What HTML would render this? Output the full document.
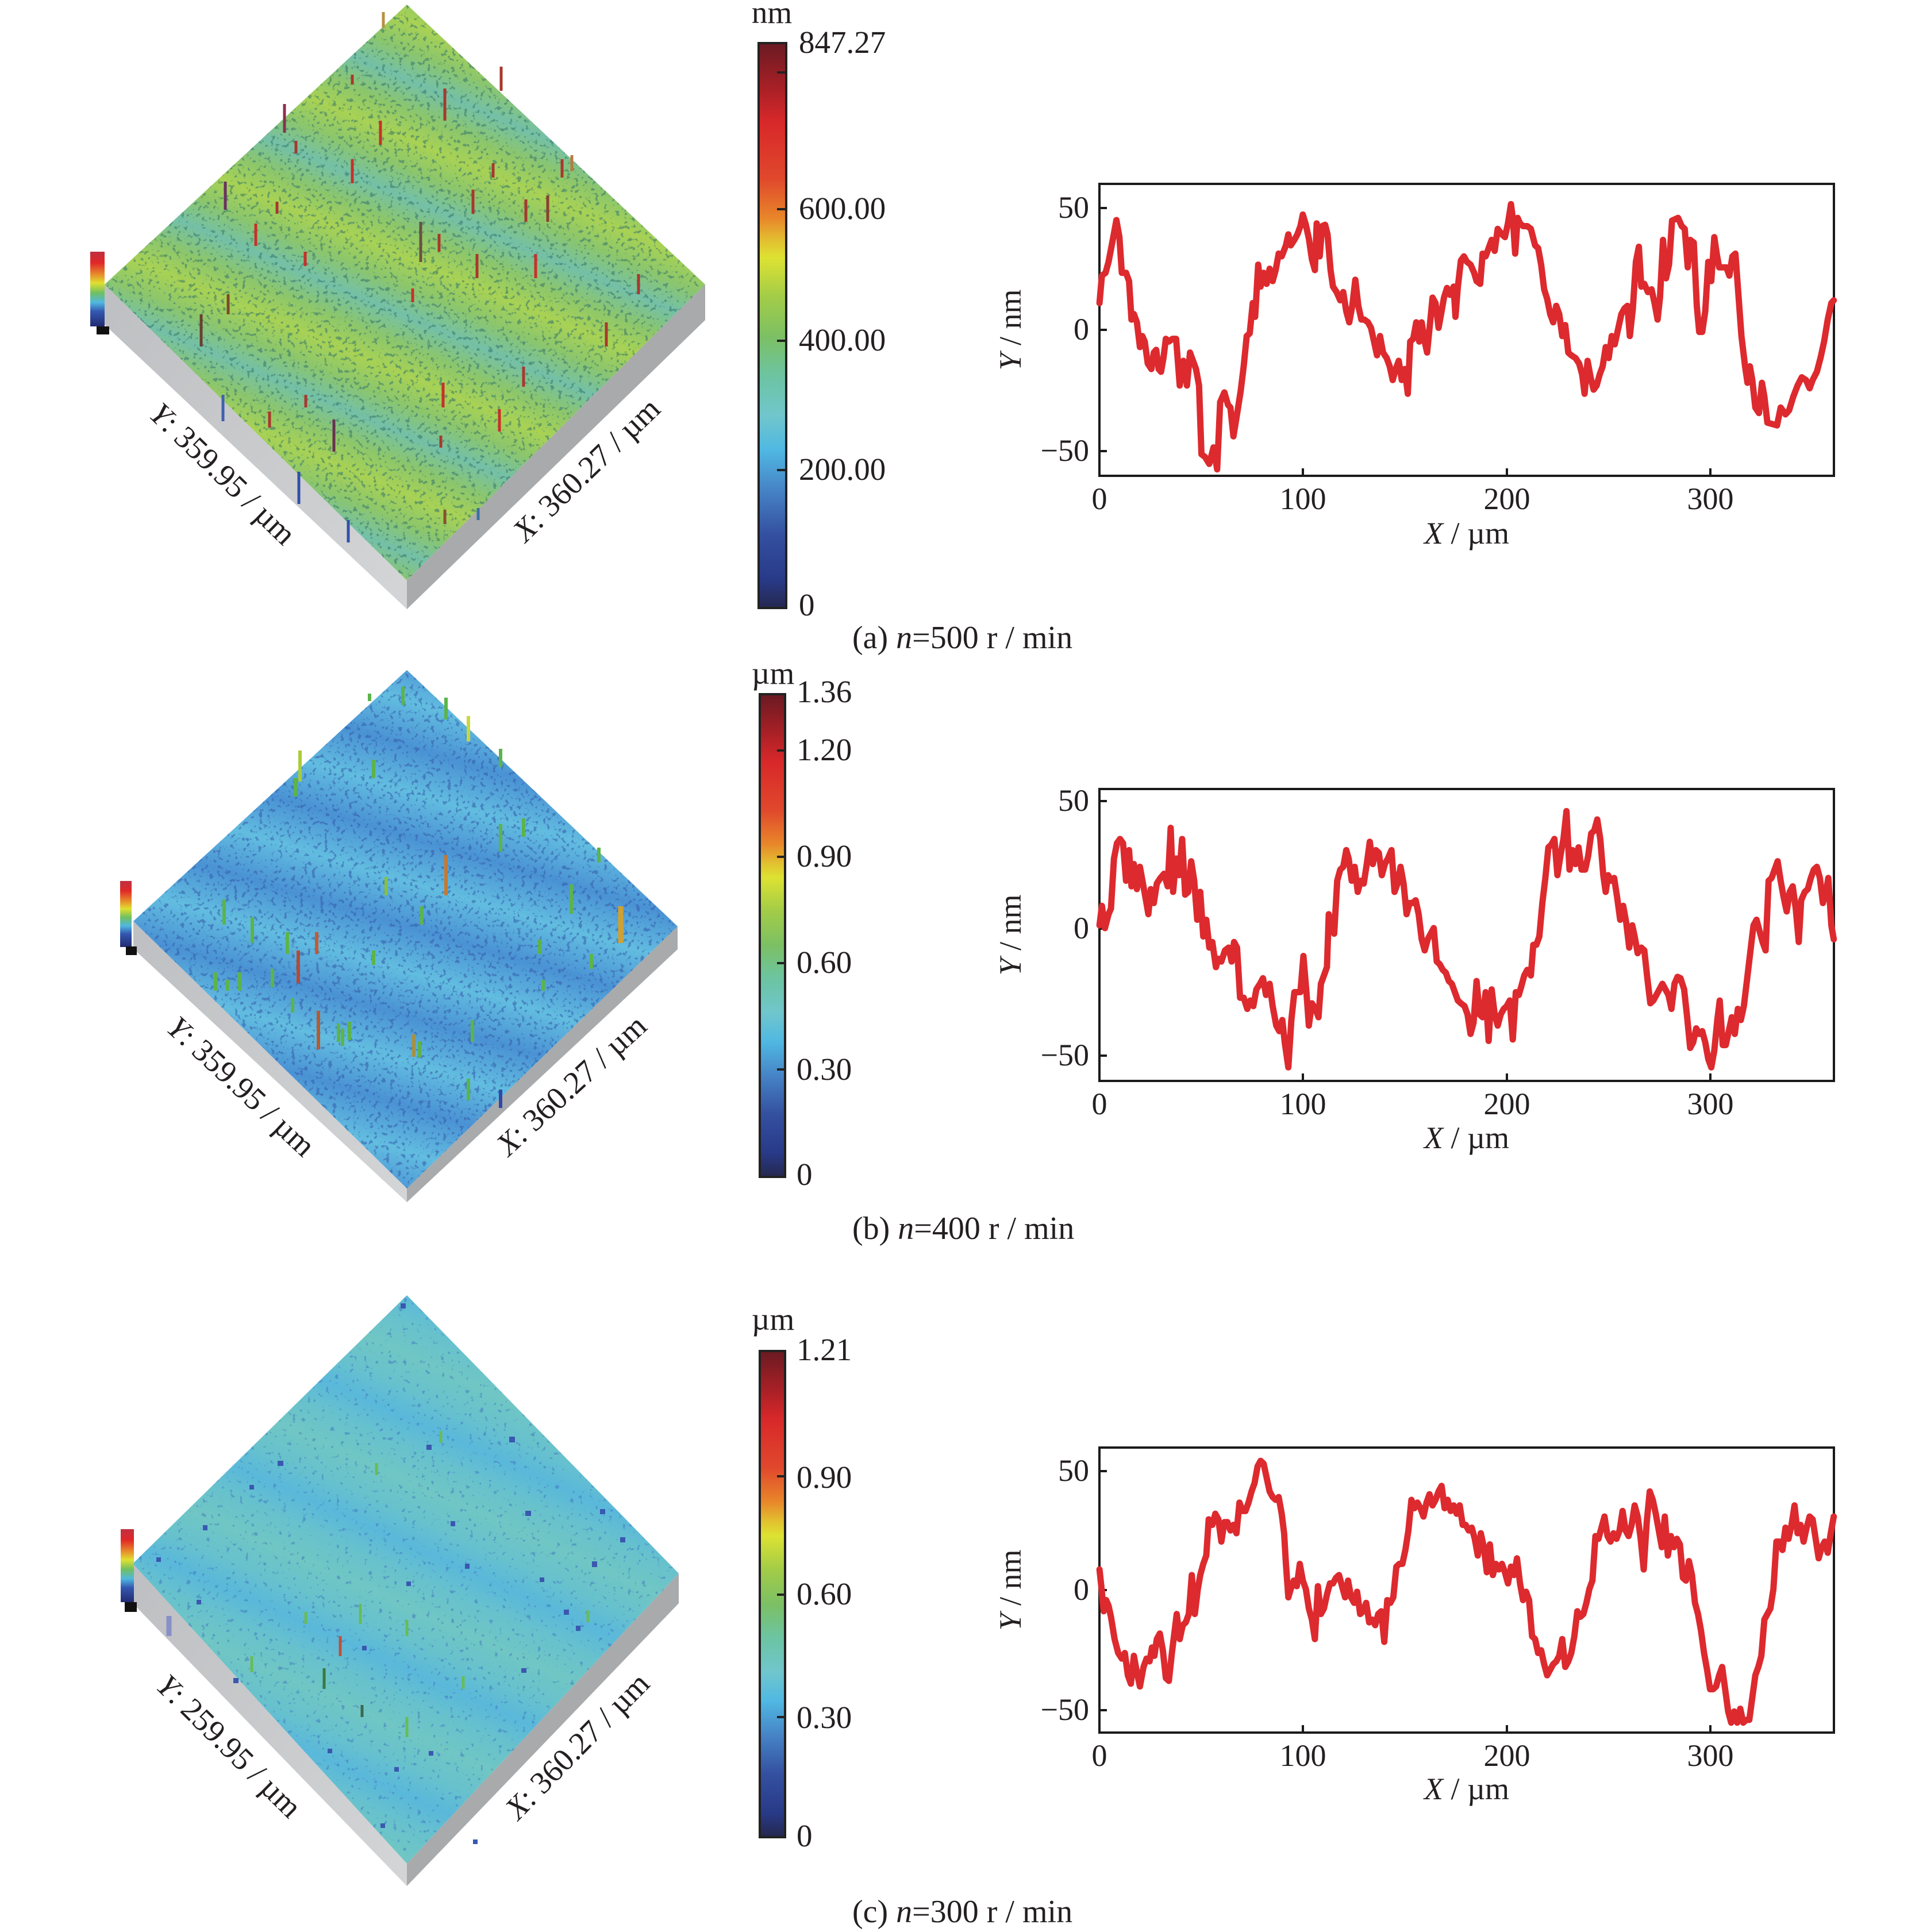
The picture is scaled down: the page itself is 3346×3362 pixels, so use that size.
<!DOCTYPE html>
<html><head><meta charset="utf-8"><style>html,body{margin:0;padding:0;background:#fff}svg{display:block}</style></head>
<body>
<svg width="3346" height="3362" viewBox="0 0 3346 3362" xmlns="http://www.w3.org/2000/svg" font-family="'Liberation Serif', serif" fill="#231f20">
<defs>
<linearGradient id="cb" x1="0" y1="0" x2="0" y2="1">
<stop offset="0" stop-color="#6a1a22"/><stop offset="0.08" stop-color="#a82026"/><stop offset="0.14" stop-color="#d8282a"/>
<stop offset="0.24" stop-color="#e0482c"/><stop offset="0.31" stop-color="#e8862a"/><stop offset="0.35" stop-color="#e2c030"/>
<stop offset="0.38" stop-color="#dde232"/><stop offset="0.45" stop-color="#a2cc48"/><stop offset="0.52" stop-color="#7cc064"/>
<stop offset="0.59" stop-color="#6cc4a2"/><stop offset="0.66" stop-color="#70c6cc"/><stop offset="0.72" stop-color="#50b8e2"/>
<stop offset="0.79" stop-color="#4684c6"/><stop offset="0.87" stop-color="#3450a0"/><stop offset="0.95" stop-color="#283a88"/>
<stop offset="1" stop-color="#25284e"/>
</linearGradient>
<linearGradient id="sc" x1="0" y1="0" x2="0" y2="1">
<stop offset="0" stop-color="#c03040"/><stop offset="0.15" stop-color="#e02828"/><stop offset="0.3" stop-color="#e88a2a"/>
<stop offset="0.42" stop-color="#e0e030"/><stop offset="0.55" stop-color="#70c060"/><stop offset="0.68" stop-color="#50b8e0"/>
<stop offset="0.8" stop-color="#3458b0"/><stop offset="1" stop-color="#222a70"/>
</linearGradient>
<linearGradient id="gA" gradientUnits="userSpaceOnUse" x1="521" y1="472" x2="447" y2="647" spreadMethod="repeat">
<stop offset="0" stop-color="#74c0a8"/><stop offset="0.25" stop-color="#8cc66c"/><stop offset="0.5" stop-color="#a8d254"/><stop offset="0.75" stop-color="#8cc66c"/><stop offset="1" stop-color="#74c0a8"/>
</linearGradient>
<linearGradient id="gB" gradientUnits="userSpaceOnUse" x1="710" y1="1456" x2="667" y2="1600" spreadMethod="repeat">
<stop offset="0" stop-color="#4a92d4"/><stop offset="0.5" stop-color="#62bde0"/><stop offset="1" stop-color="#4a92d4"/>
</linearGradient>
<linearGradient id="gC" gradientUnits="userSpaceOnUse" x1="922" y1="3002" x2="840" y2="3184" spreadMethod="repeat">
<stop offset="0" stop-color="#5ab8da"/><stop offset="0.25" stop-color="#68c2cc"/><stop offset="0.5" stop-color="#70c6c4"/><stop offset="0.75" stop-color="#68c2cc"/><stop offset="1" stop-color="#5ab8da"/>
</linearGradient>
<linearGradient id="lf" x1="0" y1="0" x2="1" y2="1">
<stop offset="0" stop-color="#bebfc2"/><stop offset="1" stop-color="#d4d5d7"/>
</linearGradient>
<clipPath id="cA"><polygon points="708,8 1227,495 708,1010 182,495"/></clipPath>
<clipPath id="cB"><polygon points="708,1166 1179,1612 708,2068 232,1603"/></clipPath>
<clipPath id="cC"><polygon points="708,2254 1181,2738 708,3243 231,2721"/></clipPath>
<filter id="nA" filterUnits="userSpaceOnUse" x="180" y="5" width="1050" height="1010" color-interpolation-filters="sRGB">
<feTurbulence type="fractalNoise" baseFrequency="0.14" numOctaves="2" seed="5"/>
<feColorMatrix type="matrix" values="0 0 0 0 0.2  0 0 0 0 0.45  0 0 0 0 0.42  10 0 0 0 -6.0"/>
</filter>
<filter id="nB" filterUnits="userSpaceOnUse" x="230" y="1160" width="955" height="915" color-interpolation-filters="sRGB">
<feTurbulence type="fractalNoise" baseFrequency="0.14" numOctaves="2" seed="9"/>
<feColorMatrix type="matrix" values="0 0 0 0 0.2  0 0 0 0 0.35  0 0 0 0 0.66  10 0 0 0 -5.9"/>
</filter>
<filter id="nC" filterUnits="userSpaceOnUse" x="228" y="2250" width="958" height="1000" color-interpolation-filters="sRGB">
<feTurbulence type="fractalNoise" baseFrequency="0.12" numOctaves="2" seed="13"/>
<feColorMatrix type="matrix" values="0 0 0 0 0.22  0 0 0 0 0.42  0 0 0 0 0.74  10 0 0 0 -6.6"/>
</filter>
</defs>
<rect width="3346" height="3362" fill="#fff"/>

<!-- ============ PANEL A surface ============ -->
<polygon points="182,495 708,1010 708,1060 182,565" fill="url(#lf)"/>
<polygon points="708,1010 1227,495 1227,557 708,1060" fill="#a9aaac"/>
<polygon points="708,8 1227,495 708,1010 182,495" fill="url(#gA)"/>
<rect x="180" y="5" width="1050" height="1010" filter="url(#nA)" clip-path="url(#cA)" opacity="0.55"/>
<g stroke-width="5" stroke="#a8382e">
<line x1="667" y1="21" x2="667" y2="49" stroke="#b89040"/><line x1="872" y1="116" x2="872" y2="158"/><line x1="613" y1="130" x2="613" y2="147"/>
<line x1="774" y1="154" x2="774" y2="210"/><line x1="495" y1="181" x2="495" y2="231" stroke="#8a3050"/><line x1="515" y1="245" x2="515" y2="267"/>
<line x1="662" y1="210" x2="662" y2="252" stroke="#c8302a"/><line x1="613" y1="277" x2="613" y2="319" stroke="#c8302a"/><line x1="858" y1="284" x2="858" y2="309"/>
<line x1="978" y1="277" x2="978" y2="309"/><line x1="995" y1="270" x2="995" y2="298" stroke="#b87a40"/><line x1="392" y1="316" x2="392" y2="365" stroke="#6a3060"/>
<line x1="482" y1="351" x2="482" y2="372"/><line x1="445" y1="389" x2="445" y2="428" stroke="#c8302a"/><line x1="823" y1="330" x2="823" y2="372"/>
<line x1="915" y1="347" x2="915" y2="386"/><line x1="953" y1="340" x2="953" y2="386" stroke="#8a4030"/><line x1="732" y1="386" x2="732" y2="456" stroke="#6a5040"/>
<line x1="764" y1="407" x2="764" y2="438"/><line x1="531" y1="438" x2="531" y2="463" stroke="#c8302a"/><line x1="932" y1="442" x2="932" y2="484" stroke="#c8302a"/>
<line x1="830" y1="442" x2="830" y2="484"/><line x1="718" y1="502" x2="718" y2="526" stroke="#c8302a"/><line x1="397" y1="512" x2="397" y2="547" stroke="#7a4a28"/>
<line x1="350" y1="547" x2="350" y2="603" stroke="#6a4030"/><line x1="1111" y1="477" x2="1111" y2="512"/><line x1="1055" y1="561" x2="1055" y2="603"/>
<line x1="771" y1="666" x2="771" y2="709" stroke="#c8302a"/><line x1="869" y1="712" x2="869" y2="751" stroke="#c8302a"/><line x1="388" y1="687" x2="388" y2="733" stroke="#4060b0"/>
<line x1="532" y1="687" x2="532" y2="709"/><line x1="581" y1="730" x2="581" y2="786" stroke="#6a3050"/><line x1="520" y1="821" x2="520" y2="877" stroke="#3050a8"/>
<line x1="606" y1="905" x2="606" y2="944" stroke="#3050a8"/><line x1="767" y1="758" x2="767" y2="779"/><line x1="832" y1="884" x2="832" y2="905" stroke="#3a70a0"/>
<line x1="774" y1="887" x2="774" y2="912" stroke="#8a5030"/><line x1="911" y1="638" x2="911" y2="673"/><line x1="469" y1="716" x2="469" y2="744"/>
</g>
<rect x="157" y="438" width="25" height="130" fill="url(#sc)"/>
<rect x="168" y="568" width="22" height="14" fill="#111"/>
<text transform="translate(388,824) rotate(44)" text-anchor="middle" dominant-baseline="central" font-size="55"><tspan font-style="italic">Y</tspan>: 359.95 / µm</text>
<text transform="translate(1020,817) rotate(-44)" text-anchor="middle" dominant-baseline="central" font-size="55"><tspan font-style="italic">X</tspan>: 360.27 / µm</text>

<!-- colorbar A -->
<rect x="1320" y="75" width="48" height="983" fill="url(#cb)" stroke="#222" stroke-width="4"/>
<g stroke="#222" stroke-width="4"><line x1="1352" y1="126" x2="1368" y2="126"/><line x1="1352" y1="364" x2="1368" y2="364"/><line x1="1352" y1="593" x2="1368" y2="593"/><line x1="1352" y1="818" x2="1368" y2="818"/></g>
<g font-size="55">
<text x="1343" y="40" text-anchor="middle">nm</text>
<text x="1390" y="92">847.27</text><text x="1390" y="381">600.00</text><text x="1390" y="610">400.00</text><text x="1390" y="835">200.00</text><text x="1390" y="1071">0</text>
</g>
<text x="1483" y="1128" font-size="56">(a) <tspan font-style="italic">n</tspan>=500 r / min</text>

<!-- plot A -->
<rect x="1913" y="320" width="1278" height="508" fill="none" stroke="#1a1a1a" stroke-width="4"/>
<g stroke="#1a1a1a" stroke-width="4">
<line x1="1913" y1="362" x2="1926" y2="362"/><line x1="1913" y1="574" x2="1926" y2="574"/><line x1="1913" y1="785" x2="1926" y2="785"/>
<line x1="2267" y1="828" x2="2267" y2="815"/><line x1="2622" y1="828" x2="2622" y2="815"/><line x1="2976" y1="828" x2="2976" y2="815"/>
</g>
<g font-size="54">
<text x="1895" y="379" text-anchor="end">50</text><text x="1895" y="591" text-anchor="end">0</text><text x="1895" y="802" text-anchor="end">−50</text>
<text x="1913" y="886" text-anchor="middle">0</text><text x="2267" y="886" text-anchor="middle">100</text><text x="2622" y="886" text-anchor="middle">200</text><text x="2976" y="886" text-anchor="middle">300</text>
<text x="2552" y="946" text-anchor="middle"><tspan font-style="italic">X</tspan> / µm</text>
<text transform="translate(1776,574) rotate(-90)" text-anchor="middle"><tspan font-style="italic">Y</tspan> / nm</text>
</g>
<g transform="translate(1700,250) scale(1.0498,0.4783)">
<polyline fill="none" stroke="#dd2a2e" stroke-width="11" stroke-linejoin="round" stroke-linecap="round" vector-effect="non-scaling-stroke" points="203,580 207,480 213,470 218,430 225,350 231,278 236,340 240,470 247,470 252,500 256,640 260,620 265,650 270,740 274,700 278,720 283,800 289,820 293,760 297,750 301,820 305,830 309,780 313,710 318,720 324,710 330,710 336,880 342,790 348,880 353,760 358,790 363,820 368,880 372,1130 378,1140 385,1165 392,1105 398,1185 403,940 410,905 416,950 420,960 425,1065 432,970 437,900 442,810 447,700 452,690 457,580 461,630 466,440 470,520 475,470 480,510 485,455 490,500 495,460 500,400 505,410 512,370 516,330 520,370 526,350 531,330 536,300 540,258 545,295 550,345 555,420 560,460 563,290 568,410 572,300 577,295 581,330 586,460 590,520 596,540 602,570 607,540 612,610 617,650 622,590 627,495 632,590 637,640 642,640 648,650 653,670 658,720 663,770 668,700 673,760 679,780 684,810 689,860 694,820 699,790 704,860 709,820 714,910 718,720 723,710 728,650 733,720 737,650 742,720 746,760 751,650 755,560 760,580 765,670 770,610 774,560 779,525 784,550 790,520 793,630 797,520 802,425 807,410 812,430 818,440 824,470 828,500 834,510 838,400 843,410 848,380 853,350 858,390 863,310 870,330 875,340 880,290 885,220 888,270 892,400 896,270 900,290 905,300 912,300 918,310 925,370 930,380 935,440 940,530 945,565 950,620 955,650 960,590 965,620 970,700 975,660 980,760 985,770 992,780 998,800 1003,840 1007,910 1012,790 1017,850 1022,895 1027,880 1032,840 1037,810 1042,740 1047,780 1052,700 1057,730 1062,680 1068,620 1073,600 1078,590 1082,700 1087,600 1092,430 1097,375 1101,520 1106,510 1112,540 1118,530 1123,580 1128,640 1132,560 1137,350 1142,490 1147,440 1152,280 1157,275 1162,270 1168,300 1173,310 1178,450 1182,350 1188,360 1193,590 1197,685 1202,685 1207,610 1212,430 1217,500 1222,340 1226,400 1230,450 1236,450 1242,450 1247,480 1252,410 1257,400 1262,550 1267,700 1273,810 1277,870 1281,810 1285,860 1290,960 1296,980 1301,870 1305,920 1310,1015 1318,1020 1326,1025 1332,960 1340,985 1346,970 1353,920 1360,880 1367,850 1374,860 1380,890 1385,860 1392,830 1398,780 1404,720 1410,640 1416,580 1420,570"/>
</g>

<!-- ============ PANEL B surface ============ -->
<polygon points="232,1603 708,2068 708,2092 232,1651" fill="url(#lf)"/>
<polygon points="708,2068 1179,1612 1179,1652 708,2092" fill="#a9aaac"/>
<polygon points="708,1166 1179,1612 708,2068 232,1603" fill="url(#gB)"/>
<rect x="230" y="1160" width="955" height="915" filter="url(#nB)" clip-path="url(#cB)" opacity="0.55"/>
<g stroke-width="6" stroke="#5cb44a">
<line x1="522" y1="1306" x2="522" y2="1360" stroke="#a8cc3a"/><line x1="514" y1="1354" x2="514" y2="1386"/><line x1="701" y1="1195" x2="701" y2="1227"/>
<line x1="643" y1="1207" x2="643" y2="1220"/><line x1="815" y1="1246" x2="815" y2="1290" stroke="#c8d83a"/><line x1="871" y1="1303" x2="871" y2="1335"/>
<line x1="650" y1="1322" x2="650" y2="1354"/><line x1="776" y1="1214" x2="776" y2="1252"/><line x1="776" y1="1488" x2="776" y2="1558" stroke="#c87830"/>
<line x1="672" y1="1526" x2="672" y2="1558" stroke="#88c040"/><line x1="871" y1="1434" x2="871" y2="1482"/><line x1="911" y1="1424" x2="911" y2="1456"/>
<line x1="1042" y1="1475" x2="1042" y2="1501"/><line x1="1080" y1="1577" x2="1080" y2="1641" stroke="#d0a030" stroke-width="9"/><line x1="994" y1="1539" x2="994" y2="1590"/>
<line x1="390" y1="1565" x2="390" y2="1609"/><line x1="439" y1="1596" x2="439" y2="1641"/><line x1="551" y1="1622" x2="551" y2="1660" stroke="#c85a30"/>
<line x1="519" y1="1654" x2="519" y2="1711" stroke="#b84a30"/><line x1="500" y1="1622" x2="500" y2="1660"/><line x1="474" y1="1686" x2="474" y2="1718"/>
<line x1="417" y1="1692" x2="417" y2="1724"/><line x1="375" y1="1692" x2="375" y2="1724"/><line x1="554" y1="1759" x2="554" y2="1826" stroke="#b85a30"/>
<line x1="589" y1="1781" x2="589" y2="1813"/><line x1="608" y1="1778" x2="608" y2="1810"/><line x1="720" y1="1800" x2="720" y2="1839" stroke="#a89040"/>
<line x1="734" y1="1577" x2="734" y2="1609"/><line x1="650" y1="1654" x2="650" y2="1679"/><line x1="822" y1="1775" x2="822" y2="1813"/>
<line x1="939" y1="1635" x2="939" y2="1660"/><line x1="1029" y1="1660" x2="1029" y2="1686"/><line x1="815" y1="1877" x2="815" y2="1915"/>
<line x1="509" y1="1737" x2="509" y2="1762"/><line x1="945" y1="1705" x2="945" y2="1724"/><line x1="871" y1="1896" x2="871" y2="1928" stroke="#3048a8"/>
<line x1="396" y1="1705" x2="396" y2="1724"/><line x1="596" y1="1790" x2="596" y2="1820"/><line x1="730" y1="1812" x2="730" y2="1840"/>
</g>
<rect x="209" y="1533" width="20" height="115" fill="url(#sc)"/>
<rect x="219" y="1647" width="19" height="15" fill="#111"/>
<text transform="translate(420,1890) rotate(43)" text-anchor="middle" dominant-baseline="central" font-size="55"><tspan font-style="italic">Y</tspan>: 359.95 / µm</text>
<text transform="translate(994,1888) rotate(-42.5)" text-anchor="middle" dominant-baseline="central" font-size="55"><tspan font-style="italic">X</tspan>: 360.27 / µm</text>

<!-- colorbar B -->
<rect x="1322" y="1208" width="44" height="840" fill="url(#cb)" stroke="#222" stroke-width="4"/>
<g stroke="#222" stroke-width="4"><line x1="1352" y1="1306" x2="1366" y2="1306"/><line x1="1352" y1="1491" x2="1366" y2="1491"/><line x1="1352" y1="1676" x2="1366" y2="1676"/><line x1="1352" y1="1861" x2="1366" y2="1861"/></g>
<g font-size="55">
<text x="1345" y="1190" text-anchor="middle">µm</text>
<text x="1386" y="1222">1.36</text><text x="1386" y="1323">1.20</text><text x="1386" y="1508">0.90</text><text x="1386" y="1693">0.60</text><text x="1386" y="1879">0.30</text><text x="1386" y="2062">0</text>
</g>
<text x="1483" y="2156" font-size="56">(b) <tspan font-style="italic">n</tspan>=400 r / min</text>

<!-- plot B -->
<rect x="1913" y="1373" width="1278" height="508" fill="none" stroke="#1a1a1a" stroke-width="4"/>
<g stroke="#1a1a1a" stroke-width="4">
<line x1="1913" y1="1394" x2="1926" y2="1394"/><line x1="1913" y1="1616" x2="1926" y2="1616"/><line x1="1913" y1="1837" x2="1926" y2="1837"/>
<line x1="2267" y1="1881" x2="2267" y2="1868"/><line x1="2622" y1="1881" x2="2622" y2="1868"/><line x1="2976" y1="1881" x2="2976" y2="1868"/>
</g>
<g font-size="54">
<text x="1895" y="1411" text-anchor="end">50</text><text x="1895" y="1633" text-anchor="end">0</text><text x="1895" y="1854" text-anchor="end">−50</text>
<text x="1913" y="1939" text-anchor="middle">0</text><text x="2267" y="1939" text-anchor="middle">100</text><text x="2622" y="1939" text-anchor="middle">200</text><text x="2976" y="1939" text-anchor="middle">300</text>
<text x="2552" y="1998" text-anchor="middle"><tspan font-style="italic">X</tspan> / µm</text>
<text transform="translate(1776,1627) rotate(-90)" text-anchor="middle"><tspan font-style="italic">Y</tspan> / nm</text>
</g>
<g transform="translate(1700,1300) scale(1.0498,0.4847)">
<polyline fill="none" stroke="#dd2a2e" stroke-width="11" stroke-linejoin="round" stroke-linecap="round" vector-effect="non-scaling-stroke" points="203,640 207,570 212,650 218,600 222,580 227,400 232,345 237,330 242,345 247,480 252,370 256,500 260,420 265,510 270,430 275,490 280,550 284,600 288,510 293,560 298,490 304,470 310,455 316,500 321,290 325,520 330,400 335,460 340,330 345,530 350,520 355,410 360,480 365,620 370,520 375,680 380,620 385,720 390,700 396,790 400,760 405,770 411,730 417,720 422,770 426,700 431,720 436,900 442,900 448,940 453,910 458,930 463,870 469,850 474,830 479,890 485,850 490,930 496,1000 501,1020 506,980 510,1060 516,1150 521,980 526,880 531,880 536,880 541,750 546,880 550,1000 555,920 561,940 566,970 570,850 575,820 580,790 583,600 588,660 592,670 597,480 602,440 607,430 612,370 616,400 621,480 626,430 631,520 636,480 641,490 646,420 651,340 656,420 661,370 666,380 671,460 676,420 681,400 687,370 692,520 697,490 702,430 707,490 712,600 717,560 722,560 727,550 732,600 737,690 742,730 747,690 752,670 757,650 762,770 767,780 772,800 777,810 782,840 787,850 792,880 797,910 802,920 808,930 813,960 818,1030 823,990 828,840 833,960 838,970 843,880 848,1055 853,870 858,960 863,1000 868,960 873,940 878,930 883,910 888,1050 893,880 898,890 902,860 907,820 912,800 918,820 922,710 927,710 932,680 937,560 942,470 947,360 952,350 957,330 962,460 967,390 972,330 977,230 982,440 987,370 992,420 997,360 1002,440 1008,440 1013,390 1018,310 1023,300 1028,260 1033,330 1038,460 1042,520 1046,460 1051,480 1056,470 1061,540 1066,620 1071,570 1076,630 1081,720 1086,640 1090,680 1095,740 1101,720 1106,730 1111,830 1116,920 1121,910 1126,890 1131,870 1136,850 1141,870 1146,890 1151,940 1156,850 1161,825 1166,830 1172,870 1177,970 1182,1080 1187,1060 1192,1010 1197,1030 1202,1020 1207,1060 1212,1120 1217,1150 1222,1090 1227,980 1231,910 1236,1070 1241,1070 1246,1020 1251,970 1256,1030 1261,940 1266,980 1271,930 1276,840 1282,730 1287,640 1292,620 1297,660 1302,700 1307,730 1312,480 1317,470 1322,440 1327,410 1332,480 1337,540 1342,590 1347,520 1352,500 1357,580 1362,700 1366,550 1372,520 1377,510 1382,470 1387,440 1392,430 1397,470 1402,560 1407,520 1411,470 1416,640 1420,690"/>
</g>

<!-- ============ PANEL C surface ============ -->
<polygon points="231,2721 708,3243 708,3282 231,2790" fill="url(#lf)"/>
<polygon points="708,3243 1181,2738 1181,2790 708,3282" fill="#a9aaac"/>
<polygon points="708,2254 1181,2738 708,3243 231,2721" fill="url(#gC)"/>
<rect x="228" y="2250" width="958" height="1000" filter="url(#nC)" clip-path="url(#cC)" opacity="0.45"/>
<g fill="#3a58b0">
<rect x="697" y="2268" width="9" height="9"/><rect x="483" y="2542" width="10" height="9"/><rect x="434" y="2584" width="8" height="8"/>
<rect x="353" y="2654" width="8" height="9"/><rect x="272" y="2710" width="8" height="8"/><rect x="742" y="2514" width="9" height="9"/>
<rect x="886" y="2500" width="10" height="10"/><rect x="784" y="2647" width="8" height="9"/><rect x="914" y="2629" width="10" height="9"/>
<rect x="1044" y="2626" width="9" height="9"/><rect x="1079" y="2675" width="9" height="9"/><rect x="1030" y="2717" width="9" height="10"/>
<rect x="809" y="2721" width="8" height="9"/><rect x="981" y="2801" width="9" height="9"/><rect x="1002" y="2829" width="8" height="9"/>
<rect x="907" y="2903" width="9" height="8"/><rect x="406" y="2920" width="9" height="9"/><rect x="342" y="2784" width="8" height="8"/>
<rect x="686" y="3075" width="8" height="8"/><rect x="746" y="3047" width="8" height="8"/><rect x="662" y="3173" width="8" height="8"/>
<rect x="823" y="3201" width="8" height="8"/><rect x="570" y="3043" width="8" height="8"/><rect x="630" y="2864" width="8" height="8"/>
<rect x="707" y="2752" width="8" height="8"/><rect x="939" y="2745" width="8" height="8"/>
</g>
<g stroke-width="5" stroke="#68bc58">
<line x1="767" y1="2490" x2="767" y2="2511"/><line x1="655" y1="2546" x2="655" y2="2567"/><line x1="592" y1="2847" x2="592" y2="2882" stroke="#c0503a"/>
<line x1="564" y1="2903" x2="564" y2="2939" stroke="#3a7a40"/><line x1="438" y1="2882" x2="438" y2="2910"/><line x1="532" y1="2805" x2="532" y2="2826"/>
<line x1="627" y1="2791" x2="627" y2="2826"/><line x1="708" y1="2819" x2="708" y2="2847"/><line x1="806" y1="2917" x2="806" y2="2939"/>
<line x1="708" y1="2988" x2="708" y2="3023"/><line x1="630" y1="2967" x2="630" y2="2988" stroke="#3a6a50"/><line x1="294" y1="2812" x2="294" y2="2847" stroke="#8890c8" stroke-width="9"/>
<line x1="1023" y1="2802" x2="1023" y2="2823"/>
</g>
<rect x="210" y="2661" width="23" height="127" fill="url(#sc)"/>
<rect x="217" y="2788" width="21" height="17" fill="#111"/>
<text transform="translate(399,3038) rotate(44.6)" text-anchor="middle" dominant-baseline="central" font-size="55"><tspan font-style="italic">Y</tspan>: 259.95 / µm</text>
<text transform="translate(1004,3038) rotate(-45.5)" text-anchor="middle" dominant-baseline="central" font-size="55"><tspan font-style="italic">X</tspan>: 360.27 / µm</text>

<!-- colorbar C -->
<rect x="1322" y="2351" width="44" height="846" fill="url(#cb)" stroke="#222" stroke-width="4"/>
<g stroke="#222" stroke-width="4"><line x1="1352" y1="2569" x2="1366" y2="2569"/><line x1="1352" y1="2775" x2="1366" y2="2775"/><line x1="1352" y1="2988" x2="1366" y2="2988"/></g>
<g font-size="55">
<text x="1345" y="2314" text-anchor="middle">µm</text>
<text x="1386" y="2367">1.21</text><text x="1386" y="2589">0.90</text><text x="1386" y="2792">0.60</text><text x="1386" y="3007">0.30</text><text x="1386" y="3213">0</text>
</g>
<text x="1483" y="3345" font-size="56">(c) <tspan font-style="italic">n</tspan>=300 r / min</text>

<!-- plot C -->
<rect x="1913" y="2519" width="1278" height="496" fill="none" stroke="#1a1a1a" stroke-width="4"/>
<g stroke="#1a1a1a" stroke-width="4">
<line x1="1913" y1="2560" x2="1926" y2="2560"/><line x1="1913" y1="2767" x2="1926" y2="2767"/><line x1="1913" y1="2976" x2="1926" y2="2976"/>
<line x1="2267" y1="3015" x2="2267" y2="3002"/><line x1="2622" y1="3015" x2="2622" y2="3002"/><line x1="2976" y1="3015" x2="2976" y2="3002"/>
</g>
<g font-size="54">
<text x="1895" y="2577" text-anchor="end">50</text><text x="1895" y="2784" text-anchor="end">0</text><text x="1895" y="2993" text-anchor="end">−50</text>
<text x="1913" y="3073" text-anchor="middle">0</text><text x="2267" y="3073" text-anchor="middle">100</text><text x="2622" y="3073" text-anchor="middle">200</text><text x="2976" y="3073" text-anchor="middle">300</text>
<text x="2552" y="3131" text-anchor="middle"><tspan font-style="italic">X</tspan> / µm</text>
<text transform="translate(1776,2767) rotate(-90)" text-anchor="middle"><tspan font-style="italic">Y</tspan> / nm</text>
</g>
<g transform="translate(1700,2450) scale(1.0498,0.4847)">
<polyline fill="none" stroke="#dd2a2e" stroke-width="11" stroke-linejoin="round" stroke-linecap="round" vector-effect="non-scaling-stroke" points="203,580 206,640 210,730 214,690 218,710 222,750 228,830 234,880 240,900 245,880 250,960 255,990 260,890 265,950 270,1000 276,930 281,900 286,910 290,860 294,890 298,830 303,810 308,870 313,970 318,980 323,880 327,810 331,740 336,830 341,780 346,770 351,740 356,600 361,740 366,650 370,600 375,560 380,530 384,400 390,420 395,380 400,400 405,480 410,410 415,410 420,440 425,420 430,450 435,340 440,370 445,370 450,340 455,300 460,270 465,210 470,190 475,200 480,250 485,300 490,320 495,330 500,320 505,380 509,450 512,560 516,680 520,650 525,620 530,640 535,560 540,620 545,650 550,720 555,760 560,830 565,640 570,740 575,720 580,670 585,630 590,630 595,610 600,600 605,640 610,680 615,620 620,680 625,700 630,660 635,740 640,730 645,700 650,770 655,760 660,780 665,740 670,730 675,840 680,690 685,700 690,680 695,570 700,560 705,560 710,510 715,440 720,330 725,360 730,340 735,360 740,390 745,340 750,310 755,350 760,330 765,300 770,280 775,360 780,330 785,370 790,350 795,380 800,350 805,420 810,420 815,440 820,430 825,470 830,530 835,450 840,500 845,590 850,490 855,600 860,560 865,580 870,560 875,590 880,630 885,570 890,600 895,540 900,630 905,690 910,660 915,690 920,820 925,830 930,880 935,870 940,920 945,960 950,940 955,920 960,910 965,890 970,830 975,930 980,910 985,880 990,820 995,730 1000,750 1005,740 1010,700 1015,650 1020,620 1025,460 1030,470 1035,430 1040,390 1045,460 1050,480 1055,450 1060,470 1065,440 1070,370 1075,440 1080,460 1085,420 1090,350 1095,390 1100,470 1105,580 1110,410 1115,300 1120,330 1125,380 1130,440 1135,500 1140,390 1145,530 1150,460 1155,500 1160,470 1165,490 1170,610 1175,620 1180,550 1185,600 1190,700 1195,740 1200,800 1205,880 1210,940 1215,1010 1220,1010 1225,1000 1230,960 1235,930 1240,1010 1245,1090 1250,1130 1255,1090 1260,1130 1265,1080 1270,1130 1275,1120 1280,1120 1285,1040 1290,960 1295,930 1300,890 1305,760 1310,740 1315,720 1320,650 1325,480 1330,480 1335,510 1340,430 1345,470 1350,420 1355,350 1360,450 1365,420 1370,480 1375,430 1380,390 1385,400 1390,470 1395,540 1400,500 1405,480 1410,520 1415,450 1420,390"/>
</g>
</svg>
</body></html>
